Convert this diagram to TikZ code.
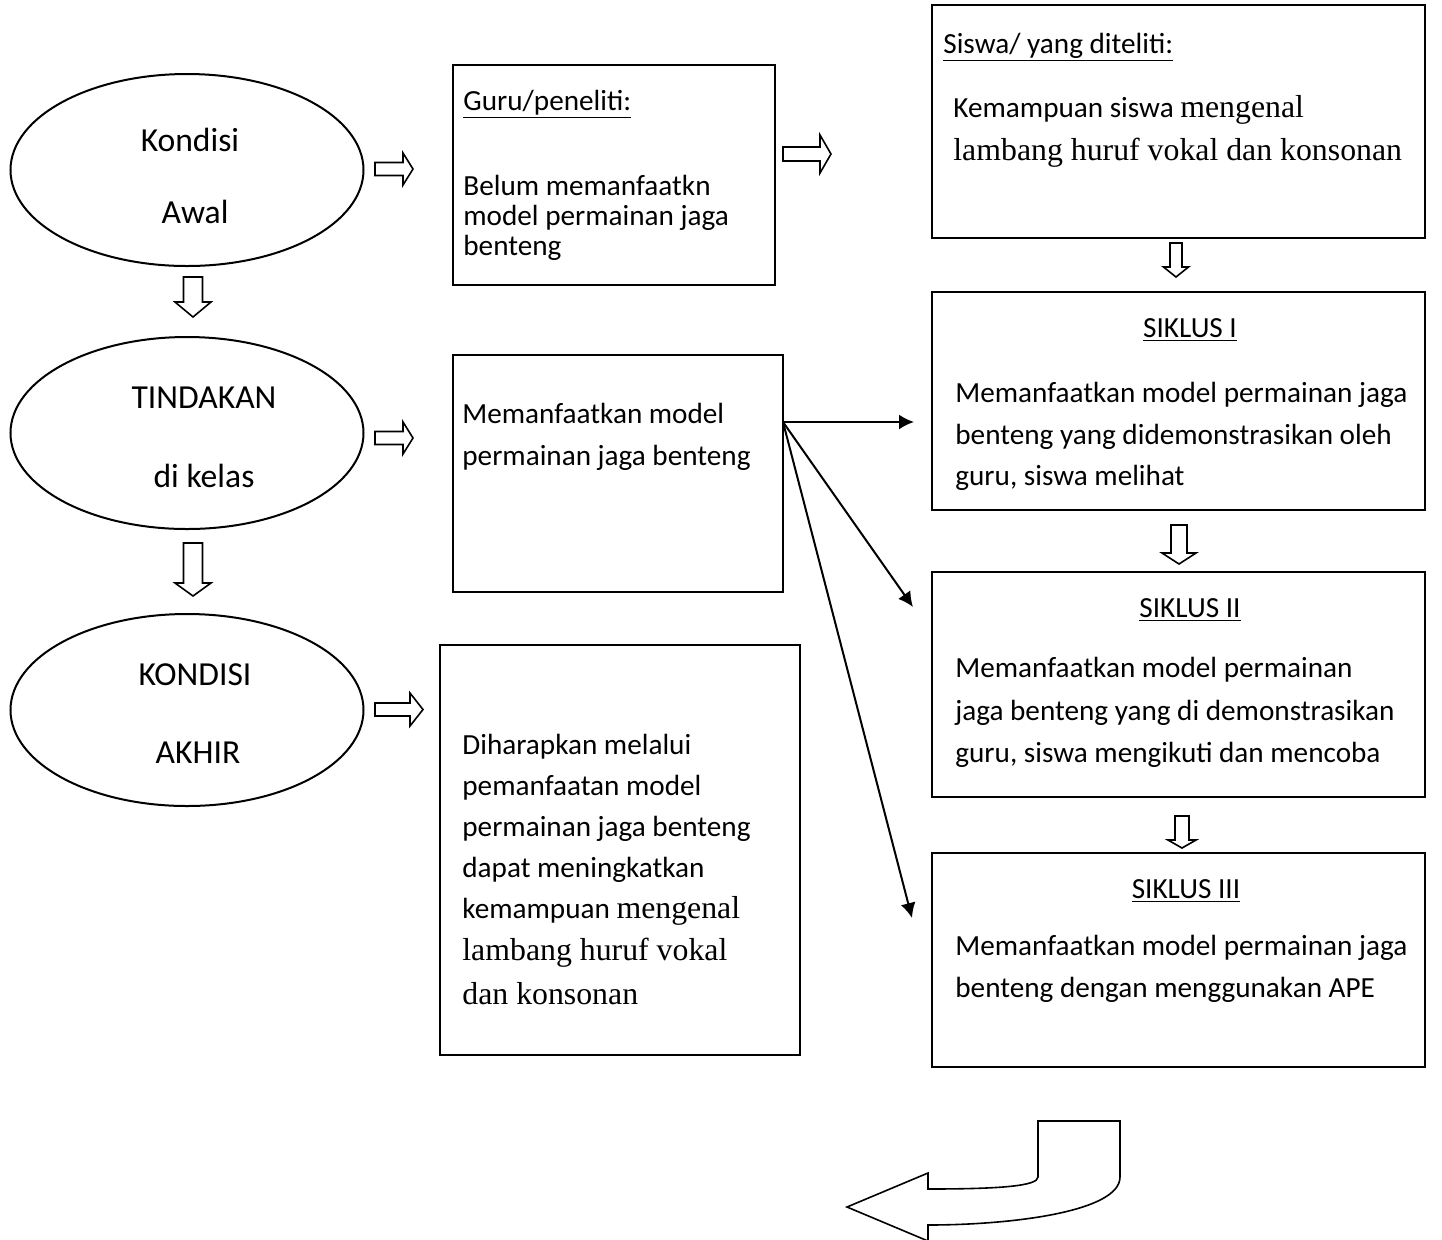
\documentclass[tikz,border=0pt]{standalone}
\usepackage{fontspec}
\setmainfont{Carlito}
\newfontfamily\tnr{Liberation Serif}
\usetikzlibrary{shapes.geometric,arrows.meta,fit}
\newcommand\tmsr[1]{{\tnr\fontsize{15.9}{20}\selectfont #1}}
\newcommand\RArr[6]{\draw[blk] (#1,#2-#5) -- (#3,#2-#5) -- (#3,#2-#6) -- (#4,#2) -- (#3,#2+#6) -- (#3,#2+#5) -- (#1,#2+#5) -- cycle;}
\newcommand\DArr[6]{\draw[blk] (#1-#5,#2) -- (#1-#5,#3) -- (#1-#6,#3) -- (#1,#4) -- (#1+#6,#3) -- (#1+#5,#3) -- (#1+#5,#2) -- cycle;}
\begin{document}
\begin{tikzpicture}[x=0.5pt,y=-0.5pt,
  box/.style={draw, line width=1pt, inner sep=0pt},
  oval/.style={draw, ellipse, line width=1pt, inner sep=0pt, minimum width=176.5pt, minimum height=96pt},
  blk/.style={draw, line width=0.8pt, line join=miter, fill=white},
  txt/.style={anchor=base west, inner sep=0pt, font=\fontsize{14.6}{18}\selectfont},
  ttl/.style={anchor=base, inner sep=0pt, font=\fontsize{14.6}{18}\selectfont},
  etxt/.style={anchor=center, inner sep=0pt, font=\fontsize{16.8}{20}\selectfont},
  con/.style={line width=1pt, -{Latex[length=7.5pt,width=7.5pt]}}]
\useasboundingbox (0,0) rectangle (1442,1239);
\fill[white] (0,0) rectangle (1442,1239);

% ellipses
\node[oval] (e1) at (187,170) {};
\node[oval] (e2) at (187,433) {};
\node[oval] (e3) at (187,710) {};
\node[etxt] (e1a) at (190,140) {Kondisi};
\node[etxt] (e1b) at (195,212) {Awal};
\node[etxt] (e2a) at (204,398) {TINDAKAN};
\node[etxt] (e2b) at (204,476) {di kelas};
\node[etxt] (e3a) at (195,675) {KONDISI};
\node[etxt] (e3b) at (198,753) {AKHIR};

% boxes
\node[box, fit={(453,65) (775,285)}] (guru) {};
\node[box, fit={(453,355) (783,592)}] (mem) {};
\node[box, fit={(440,645) (800,1055)}] (hrp) {};
\node[box, fit={(932,5) (1425,238)}] (sis) {};
\node[box, fit={(932,292) (1425,510)}] (s1) {};
\node[box, fit={(932,572) (1425,797)}] (s2) {};
\node[box, fit={(932,853) (1425,1067)}] (s3) {};

% guru text
\node[txt] (g0) at (463,110) {\underline{Guru/peneliti:}};
\node[txt] (g1) at (463,195) {Belum memanfaatkn};
\node[txt] (g2) at (463,225) {model permainan jaga};
\node[txt] (g3) at (463,255) {benteng};

% siswa text
\node[txt] (t0) at (943,53) {\underline{Siswa/ yang diteliti:}};
\node[txt] (t1) at (953,117) {Kemampuan siswa \tmsr{mengenal}};
\node[txt] (t2) at (953,160) {\tmsr{lambang huruf vokal dan konsonan}};

% memanfaatkan text
\node[txt] (m1) at (462,423) {Memanfaatkan model};
\node[txt] (m2) at (462,465) {permainan jaga benteng};

% siklus I
\node[ttl] (a0) at (1190,337) {\underline{SIKLUS I}};
\node[txt] (a1) at (955,402) {Memanfaatkan model permainan jaga};
\node[txt] (a2) at (955,444) {benteng yang didemonstrasikan oleh};
\node[txt] (a3) at (955,485) {guru, siswa melihat};

% siklus II
\node[ttl] (b0) at (1190,617) {\underline{SIKLUS II}};
\node[txt] (b1) at (955,677) {Memanfaatkan model permainan};
\node[txt] (b2) at (955,720) {jaga benteng yang di demonstrasikan};
\node[txt] (b3) at (955,762) {guru, siswa mengikuti dan mencoba};

% siklus III
\node[ttl] (c0) at (1186,898) {\underline{SIKLUS III}};
\node[txt] (c1) at (955,955) {Memanfaatkan model permainan jaga};
\node[txt] (c2) at (955,997) {benteng dengan menggunakan APE};

% harapan text
\node[txt] (h1) at (462,754) {Diharapkan melalui};
\node[txt] (h2) at (462,795) {pemanfaatan model};
\node[txt] (h3) at (462,836) {permainan jaga benteng};
\node[txt] (h4) at (462,877) {dapat meningkatkan};
\node[txt] (h5) at (462,918) {kemampuan \tmsr{mengenal}};
\node[txt] (h6) at (462,960) {\tmsr{lambang huruf vokal}};
\node[txt] (h7) at (462,1004) {\tmsr{dan konsonan}};

% block arrows
\RArr{375}{169}{403}{413}{6.5}{16}
\RArr{375}{438}{403}{413}{6.5}{16}
\RArr{375}{709.5}{410}{423}{6.5}{16.5}
\RArr{783}{154}{820}{831}{7}{19}
\DArr{193}{277}{302}{317}{9.5}{18}
\DArr{193}{543}{583}{596}{9.5}{18}
\DArr{1176}{243}{267}{277}{6}{12.5}
\DArr{1179}{525}{553}{564}{8}{17}
\DArr{1182}{816}{840}{848}{7}{14}

% connectors
\coordinate (src) at (783,422);
\coordinate (d1) at (914,422);
\coordinate (d2) at (913,607);
\coordinate (d3) at (912,918);
\draw[con] (src) -- (d1);
\draw[con] (src) -- (d2);
\draw[con] (src) -- (d3);

% curved return arrow
\draw[blk] (1038,1121) -- (1120,1121) -- (1120,1177)
  .. controls (1120,1212) and (1010,1225) .. (928,1225)
  -- (928,1241) -- (847,1207) -- (928,1173) -- (928,1189)
  .. controls (1000,1189) and (1038,1186) .. (1038,1177) -- cycle;
\end{tikzpicture}
\end{document}
